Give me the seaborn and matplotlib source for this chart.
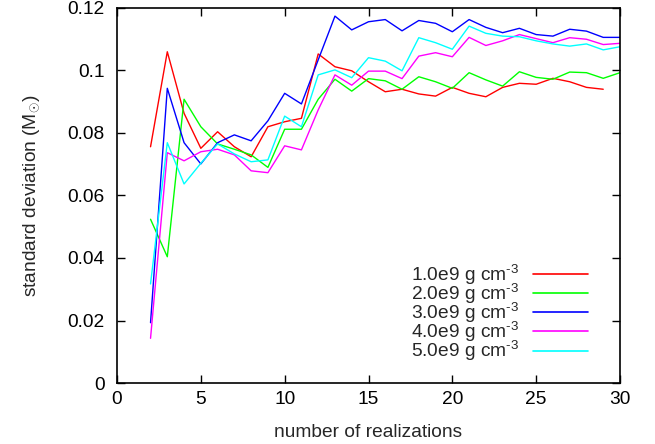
import numpy as np
import pandas as pd
import matplotlib
matplotlib.use("Agg")
import matplotlib.pyplot as plt
import seaborn as sns

x_all = list(range(2, 31))
red = [0.0756, 0.106, 0.0863, 0.0751, 0.0804, 0.0756, 0.0724, 0.082, 0.0836,
       0.0847, 0.1053, 0.1012, 0.0999, 0.0964, 0.0932, 0.094, 0.0925, 0.0918, 0.0946,
       0.0927, 0.0916, 0.0946, 0.0959, 0.0956, 0.0975, 0.0964, 0.0946, 0.094]
green = [0.0524, 0.0404, 0.0908, 0.082, 0.0765, 0.0748, 0.073, 0.069, 0.0812,
         0.0812, 0.0908, 0.0972, 0.0934, 0.0974, 0.0967, 0.094, 0.098, 0.0964, 0.0943,
         0.0993, 0.097, 0.095, 0.0996, 0.0978, 0.0972, 0.0995, 0.0993, 0.0975, 0.0993]
blue = [0.0193, 0.0943, 0.0769, 0.0701, 0.0769, 0.0794, 0.0775, 0.0839, 0.0927,
        0.0893, 0.1034, 0.1174, 0.113, 0.1156, 0.1163, 0.1127, 0.116, 0.1151, 0.1124,
        0.1163, 0.1138, 0.1121, 0.1135, 0.1115, 0.111, 0.1132, 0.1126, 0.1106, 0.1106]
magenta = [0.0143, 0.0737, 0.0711, 0.074, 0.0748, 0.073, 0.0679, 0.0673, 0.0759,
           0.0746, 0.0874, 0.0986, 0.0953, 0.0998, 0.0998, 0.0974, 0.1046, 0.1057, 0.1044,
           0.1106, 0.108, 0.1095, 0.1115, 0.1102, 0.1089, 0.1105, 0.11, 0.1083, 0.1087]
cyan = [0.0317, 0.0769, 0.0637, 0.0703, 0.0765, 0.0733, 0.0708, 0.0714, 0.0854,
        0.082, 0.0986, 0.1002, 0.0977, 0.1041, 0.103, 0.0999, 0.1105, 0.1089, 0.1068,
        0.1142, 0.1119, 0.111, 0.1108, 0.1095, 0.1085, 0.1078, 0.1085, 0.1066, 0.1076]

labels = ["1.0e9 g cm$^{\\text{-3}}$", "2.0e9 g cm$^{\\text{-3}}$", "3.0e9 g cm$^{\\text{-3}}$",
          "4.0e9 g cm$^{\\text{-3}}$", "5.0e9 g cm$^{\\text{-3}}$"]
colors = ["#ff0000", "#00ff00", "#0000ff", "#ff00ff", "#00ffff"]
series = [red, green, blue, magenta, cyan]

xticks = [0, 5, 10, 15, 20, 25, 30]
yticks = [0, 0.02, 0.04, 0.06, 0.08, 0.1, 0.12]
yticklabels = ["0", "0.02", "0.04", "0.06", "0.08", "0.1", "0.12"]

rows = []
for lab, vals in zip(labels, series):
    for xv, yv in zip(x_all, vals):
        rows.append({"n": xv, "sd": yv, "rho": lab})
df = pd.DataFrame(rows)

sns.set_style("ticks")
plt.rcParams["font.family"] = ["Liberation Sans", "DejaVu Sans"]
plt.rcParams["mathtext.fontset"] = "custom"
plt.rcParams["mathtext.rm"] = "Liberation Sans"
plt.rcParams["mathtext.it"] = "Liberation Sans:italic"

FS = 13.8

fig = plt.figure(figsize=(6.55, 4.44), dpi=100)
ax = fig.add_axes([117/655, 61/444, 503/655, 375/444])

sns.lineplot(data=df, x="n", y="sd", hue="rho", palette=dict(zip(labels, colors)),
             hue_order=labels, linewidth=1.0, ax=ax, legend=False)

ax.set_xlim(0, 30)
ax.set_ylim(0, 0.12)
ax.set_xticks(xticks)
ax.set_yticks(yticks)
ax.set_yticklabels(yticklabels)
ax.tick_params(direction="in", top=True, right=True, length=6, width=1,
               labelsize=FS, colors="black")
ax.tick_params(axis="x", pad=6)
ax.tick_params(axis="y", pad=9)
for s in ax.spines.values():
    s.set_visible(True)
    s.set_linewidth(1.2)
    s.set_color("black")

ax.set_xlabel("number of realizations", fontsize=FS, labelpad=11)
ax.set_ylabel(r"standard deviation (M$_{\odot}$)", fontsize=FS, labelpad=18)

handles = [plt.Line2D([], [], color=c, lw=1.2) for c in colors]
leg = ax.legend(handles, labels, loc="lower right", markerfirst=False, frameon=False,
                fontsize=FS, handlelength=2.9, labelspacing=-0.26, handletextpad=0.7,
                bbox_to_anchor=(0.96, 0.022), borderaxespad=0.2)
for t in leg.get_texts():
    t.set_ha("right")

fig.savefig("out.png", dpi=100)
